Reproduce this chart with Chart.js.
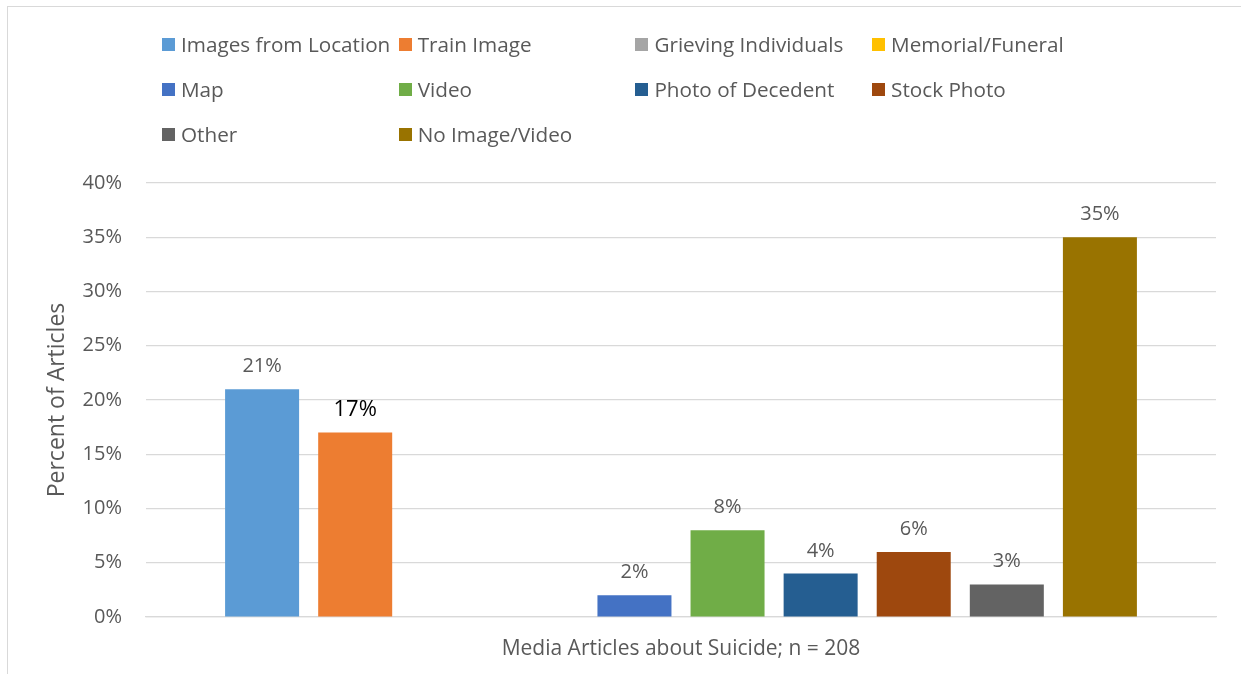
<!DOCTYPE html>
<html>
<head>
<meta charset="utf-8">
<title>Media Articles about Suicide</title>
<script src="https://cdn.jsdelivr.net/npm/chart.js@4.4.1/dist/chart.umd.min.js"></script>
<style>
    html, body { margin: 0; padding: 0; background: #fff; }
    body { width: 1241px; height: 674px; position: relative; overflow: hidden; font-family: 'Open Sans', sans-serif; }
    #frame { position: absolute; left: 7px; top: 6px; width: 1260px; height: 700px; border: 1.5px solid #d9d9d9; }
    #chartWrap { position: absolute; left: 0; top: 0; width: 1241px; height: 674px; }
    #legend { position: absolute; left: 162px; top: 31px; }
    .legend-item { position: absolute; display: flex; align-items: center; white-space: nowrap; color: #595959; font-size: 20.7px; height: 26px; }
    .legend-box { width: 13px; height: 13px; margin-right: 6px; flex: none; }
</style>
</head>
<body>
<div id="frame"></div>
<div id="chartWrap"><canvas id="mediaChart"></canvas></div>
<div id="legend"></div>
<script>
// Image type shown with each article
const categories = ['Media Articles about Suicide; n = 208'];
const seriesNames = [
    'Images from Location', 'Train Image', 'Grieving Individuals', 'Memorial/Funeral',
    'Map', 'Video', 'Photo of Decedent', 'Stock Photo',
    'Other', 'No Image/Video'
];
const seriesValues = [21, 17, 0, 0, 2, 8, 4, 6, 3, 35];
const yTicks = [0, 5, 10, 15, 20, 25, 30, 35, 40];

const seriesColors = [
    '#5b9bd5', '#ed7d31', '#a5a5a5', '#ffc000',
    '#4472c4', '#70ad47', '#255e91', '#9e480e',
    '#636363', '#997300'
];

const FONT = "'Open Sans', sans-serif";
const GREY = '#595959';

// Value labels above each bar (zero bars get none)
const barLabels = {
    id: 'barLabels',
    afterDatasetsDraw(chart) {
        const ctx = chart.ctx;
        ctx.save();
        ctx.textAlign = 'center';
        ctx.textBaseline = 'alphabetic';
        chart.data.datasets.forEach((ds, i) => {
            const meta = chart.getDatasetMeta(i);
            meta.data.forEach((bar, j) => {
                const v = ds.data[j];
                if (!v) return;
                // the Train Image label is set darker and a bit bigger
                const strong = i === 1;
                ctx.fillStyle = strong ? '#000' : GREY;
                ctx.font = (strong ? '22px ' : '20px ') + FONT;
                ctx.fillText(v + '%', bar.x, bar.y - 17);
            });
        });
        ctx.restore();
    }
};

const datasets = seriesNames.map((name, i) => ({
    label: name,
    data: [seriesValues[i]],
    backgroundColor: seriesColors[i],
    borderWidth: 0,
    categoryPercentage: 0.87,
    barPercentage: 0.795
}));

const ctx = document.getElementById('mediaChart').getContext('2d');
const chart = new Chart(ctx, {
    type: 'bar',
    data: { labels: categories, datasets: datasets },
    plugins: [barLabels],
    options: {
        responsive: true,
        maintainAspectRatio: false,
        animation: false,
        layout: { padding: { left: 0, right: 25, top: 183, bottom: 0 } },
        plugins: {
            legend: { display: false },
            tooltip: { enabled: false }
        },
        scales: {
            x: {
                grid: { display: false, drawTicks: false },
                border: { color: '#d9d9d9', width: 1.25 },
                ticks: { color: GREY, font: { family: FONT, size: 21 }, padding: 19 },
                afterFit: s => { s.height = 57; }
            },
            y: {
                min: 0,
                max: 40,
                afterBuildTicks: s => { s.ticks = yTicks.map(v => ({ value: v })); },
                grid: { color: '#d9d9d9', lineWidth: 1.25, drawTicks: false },
                border: { display: false },
                ticks: {
                    color: GREY,
                    font: { family: FONT, size: 20 },
                    padding: 24,
                    callback: v => v + '%'
                },
                title: {
                    display: true,
                    text: 'Percent of Articles',
                    color: GREY,
                    font: { family: FONT, size: 23 },
                    padding: { top: 44, bottom: 0 }
                },
                afterFit: s => { s.width = 146; }
            }
        }
    }
});

// Four-column legend, filled row by row
const legendEl = document.getElementById('legend');
seriesNames.forEach((name, i) => {
    const item = document.createElement('div');
    item.className = 'legend-item';
    item.style.left = (i % 4) * 236.7 + 'px';
    item.style.top = Math.floor(i / 4) * 45 + 'px';
    const box = document.createElement('span');
    box.className = 'legend-box';
    box.style.background = seriesColors[i];
    const txt = document.createElement('span');
    txt.textContent = name;
    item.appendChild(box);
    item.appendChild(txt);
    legendEl.appendChild(item);
});
</script>
</body>
</html>
